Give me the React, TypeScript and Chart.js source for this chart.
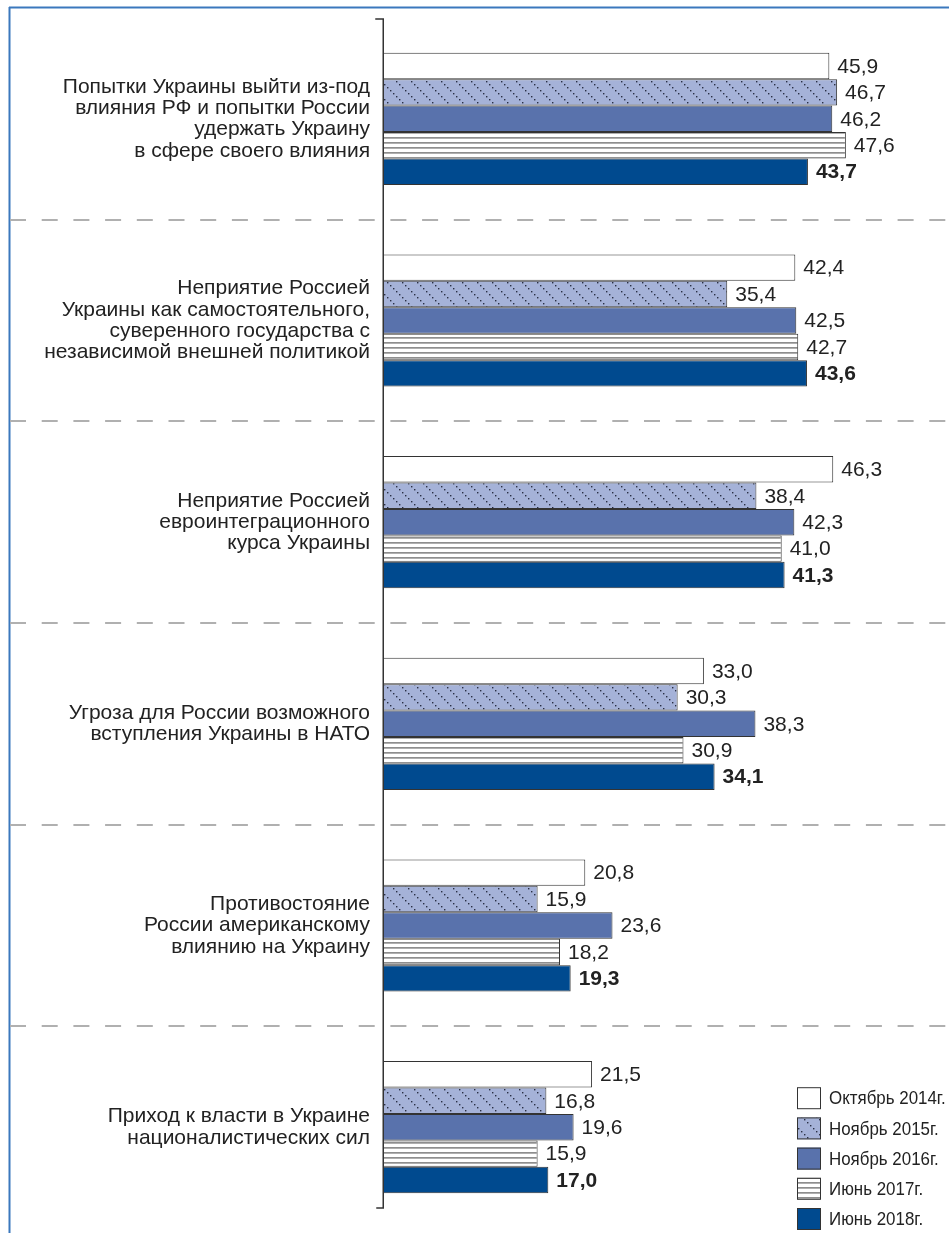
import React, { useEffect, useRef } from "react";
import { Chart, registerables } from "chart.js";

Chart.register(...registerables);

const categories: string[][] = [
  ["Попытки Украины выйти из-под", "влияния РФ и попытки России", "удержать Украину", "в сфере своего влияния"],
  ["Неприятие Россией", "Украины как самостоятельного,", "суверенного государства с", "независимой внешней политикой"],
  ["Неприятие Россией", "евроинтеграционного", "курса Украины"],
  ["Угроза для России возможного", "вступления Украины в НАТО"],
  ["Противостояние", "России американскому", "влиянию на Украину"],
  ["Приход к власти в Украине", "националистических сил"],
];

const seriesLabels = ["Октябрь 2014г.", "Ноябрь 2015г.", "Ноябрь 2016г.", "Июнь 2017г.", "Июнь 2018г."];

const oct2014 = [45.9, 42.4, 46.3, 33.0, 20.8, 21.5];
const nov2015 = [46.7, 35.4, 38.4, 30.3, 15.9, 16.8];
const nov2016 = [46.2, 42.5, 42.3, 38.3, 23.6, 19.6];
const jun2017 = [47.6, 42.7, 41.0, 30.9, 18.2, 15.9];
const jun2018 = [43.7, 43.6, 41.3, 34.1, 19.3, 17.0];

const FONT = "'Liberation Sans', Arial, Helvetica, sans-serif";

function makeDotPattern(ctx: CanvasRenderingContext2D): CanvasPattern | string {
  const c = document.createElement("canvas");
  c.width = 15;
  c.height = 15;
  const g = c.getContext("2d")!;
  g.fillStyle = "#a5b2d8";
  g.fillRect(0, 0, 15, 15);
  g.fillStyle = "#2a2f45";
  for (let k = 0; k < 5; k++) {
    g.fillRect(k * 3, k * 3, 1.4, 1.4);
  }
  return ctx.createPattern(c, "repeat") || "#a5b2d8";
}

function makeLinePattern(ctx: CanvasRenderingContext2D): CanvasPattern | string {
  const c = document.createElement("canvas");
  c.width = 8;
  c.height = 5;
  const g = c.getContext("2d")!;
  g.fillStyle = "#ffffff";
  g.fillRect(0, 0, 8, 5);
  g.fillStyle = "#8e8e8e";
  g.fillRect(0, 2, 8, 1.7);
  return ctx.createPattern(c, "repeat") || "#dddddd";
}

const fmt = (v: number) => v.toFixed(1).replace(".", ",");

const decorPlugin = {
  id: "decor",
  beforeDatasetsDraw(chart: any) {
    const { ctx, scales } = chart;
    const y = scales.y;
    ctx.save();
    // frame
    ctx.strokeStyle = "#3b78bd";
    ctx.lineWidth = 2;
    ctx.beginPath();
    ctx.moveTo(9, 7.5);
    ctx.lineTo(chart.width, 7.5);
    ctx.moveTo(9.5, 7);
    ctx.lineTo(9.5, chart.height);
    ctx.stroke();
    // dashed separators between categories
    ctx.strokeStyle = "#b0b0b0";
    ctx.lineWidth = 2;
    ctx.setLineDash([16, 15.7]);
    const n = chart.data.labels.length;
    for (let i = 0; i < n - 1; i++) {
      const yy = Math.round((y.getPixelForValue(i) + y.getPixelForValue(i + 1)) / 2);
      ctx.beginPath();
      ctx.moveTo(10, yy);
      ctx.lineTo(chart.width, yy);
      ctx.stroke();
    }
    ctx.restore();
  },
  afterDatasetsDraw(chart: any) {
    const { ctx, chartArea } = chart;
    ctx.save();
    // axis line with end ticks
    ctx.strokeStyle = "#333333";
    ctx.lineWidth = 1.5;
    const ax = chartArea.left + 0.25;
    const top = chartArea.top + 1;
    const bottom = chartArea.bottom - 20;
    ctx.beginPath();
    ctx.moveTo(ax - 8, top);
    ctx.lineTo(ax, top);
    ctx.lineTo(ax, bottom);
    ctx.lineTo(ax - 7, bottom);
    ctx.stroke();
    // value labels
    ctx.fillStyle = "#222222";
    ctx.textBaseline = "middle";
    ctx.textAlign = "left";
    chart.data.datasets.forEach((ds: any, di: number) => {
      const meta = chart.getDatasetMeta(di);
      ctx.font = (di === chart.data.datasets.length - 1 ? "bold " : "") + "21px " + FONT;
      meta.data.forEach((bar: any, i: number) => {
        ctx.fillText(fmt(ds.data[i]), bar.x + 8, bar.y + 1);
      });
    });
    ctx.restore();
  },
  afterDraw(chart: any) {
    const { ctx, chartArea } = chart;
    const dss = chart.data.datasets;
    const x0 = chartArea.right - 150;
    const step = 30.2;
    const lastY = chartArea.bottom - 9;
    ctx.save();
    dss.forEach((ds: any, i: number) => {
      const cy = lastY - (dss.length - 1 - i) * step;
      ctx.fillStyle = ds.backgroundColor;
      ctx.fillRect(x0, cy - 11, 24, 22);
      ctx.strokeStyle = "#333333";
      ctx.lineWidth = 1;
      ctx.strokeRect(x0 + 0.5, cy - 10.5, 23, 21);
      ctx.fillStyle = "#222222";
      ctx.font = "19px " + FONT;
      ctx.textBaseline = "middle";
      ctx.textAlign = "left";
      ctx.save();
      ctx.translate(x0 + 32, cy + 1);
      ctx.scale(0.89, 1);
      ctx.fillText(ds.label, 0, 0);
      ctx.restore();
    });
    ctx.restore();
  },
};

export default function App() {
  const ref = useRef<HTMLCanvasElement | null>(null);
  useEffect(() => {
    if (!ref.current) return;
    const ctx = ref.current.getContext("2d")!;
    const dotPat = makeDotPattern(ctx);
    const linePat = makeLinePattern(ctx);
    const series = [oct2014, nov2015, nov2016, jun2017, jun2018];
    const fills: any[] = ["#ffffff", dotPat, "#5972ac", linePat, "#004a8f"];
    const chart = new Chart(ref.current, {
      type: "bar",
      data: {
        labels: categories as any,
        datasets: series.map((d, i) => ({
          label: seriesLabels[i],
          data: d,
          backgroundColor: fills[i],
          borderColor: "#333333",
          borderWidth: 1,
          categoryPercentage: 0.655,
          barPercentage: 1.0,
        })),
      },
      options: {
        indexAxis: "y",
        animation: false,
        responsive: true,
        maintainAspectRatio: false,
        layout: { padding: { top: 18, bottom: 5, right: 2, left: 0 } },
        scales: {
          x: { display: false, min: 0, max: 58 },
          y: {
            afterFit: (s: any) => {
              s.width = 383;
              s.paddingTop = 0;
              s.paddingBottom = 0;
            },
            grid: { display: false, drawTicks: false },
            border: { display: false },
            ticks: {
              autoSkip: false,
              padding: 13,
              color: "#222222",
              font: { family: FONT, size: 21, lineHeight: 1.02 },
            },
          },
        },
        plugins: {
          legend: { display: false },
          tooltip: { enabled: false },
        },
      },
      plugins: [decorPlugin],
    });
    return () => chart.destroy();
  }, []);
  return (
    <div style={{ position: "fixed", left: 0, top: 0, width: 949, height: 1233, background: "#ffffff" }}>
      <canvas ref={ref} />
    </div>
  );
}
